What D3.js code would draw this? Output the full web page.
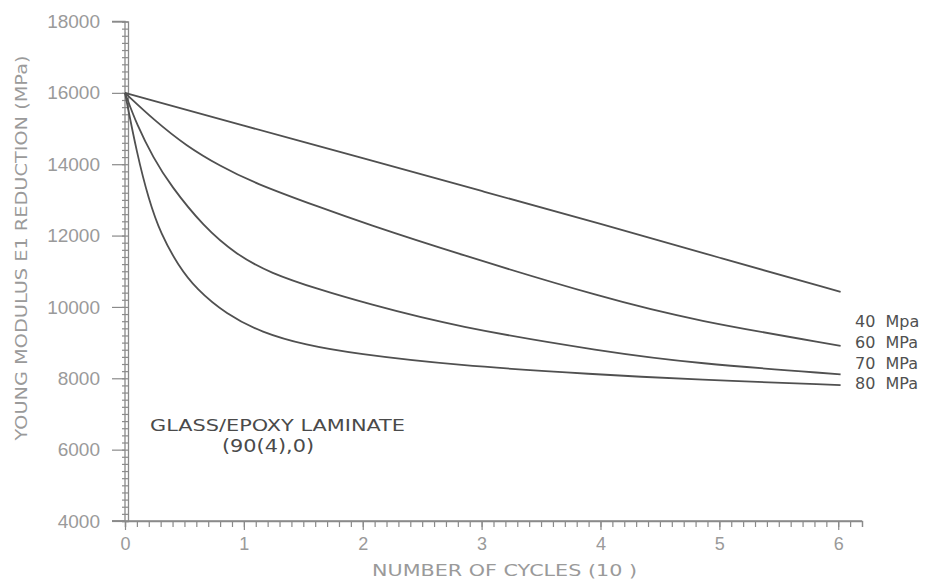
<!DOCTYPE html>
<html>
<head>
<meta charset="utf-8">
<script src="https://cdn.jsdelivr.net/npm/d3@7"></script>
<style>
    body { margin: 0; background: #fff; }
    svg { display: block; font-family: "DejaVu Sans", sans-serif; }
</style>
</head>
<body>
<svg id="chart" width="945" height="586"></svg>
<script>
// cycles (x) and modulus (MPa)
var x40 = [0, 1, 2, 3, 4, 5, 6.02];
var y40 = [16000, 15080, 14170, 13250, 12330, 11380, 10420];

var x60 = [0, 0.24, 0.52, 0.8, 1.08, 1.64, 2.02, 2.77, 4.04, 4.79, 6.02];
var y60 = [16000, 15250, 14500, 13950, 13480, 12790, 12340, 11520, 10240, 9620, 8910];

var x70 = [0, 0.1, 0.24, 0.38, 0.66, 0.94, 1.22, 1.64, 2.02, 2.77, 4.04, 4.79, 6.02];
var y70 = [16000, 15100, 14170, 13420, 12250, 11460, 10950, 10480, 10110, 9450, 8740, 8420, 8110];

var x80 = [0, 0.1, 0.2, 0.3, 0.45, 0.6, 0.85, 1.15, 1.52, 1.93, 2.78, 3.95, 4.8, 6.02];
var y80 = [16000, 14300, 13000, 12050, 11150, 10500, 9800, 9280, 8930, 8690, 8360, 8110, 7960, 7810];

var seriesNames = ['40  Mpa', '60  MPa', '70  MPa', '80  MPa'];
var xTicks = [0, 1, 2, 3, 4, 5, 6];
var yTicks = [4000, 6000, 8000, 10000, 12000, 14000, 16000, 18000];

var svg = d3.select('#chart');

var x = d3.scaleLinear().domain([0, 6.2]).range([125, 862]);
var y = d3.scaleLinear().domain([4000, 18000]).range([521, 21.5]);

var axisColor = '#8a8a8a';
var lineColor = '#505050';

// y axis: long ticks every 2000, short ones every 200
var yMinor = d3.range(4000, 18001, 200);
svg.append('g')
    .attr('transform', 'translate(' + (x(0) + 3) + ',0)')
    .call(d3.axisLeft(y).tickValues(yMinor).tickSize(6).tickFormat(''))
    ;
svg.append('g')
    .attr('class', 'y-major')
    .attr('transform', 'translate(' + x(0) + ',0)')
    .call(d3.axisLeft(y).tickValues(yTicks).tickSize(13).tickPadding(12).tickFormat(d3.format('d')))
    ;

// x axis
var xMinor = d3.range(0, 6.21, 0.1);
svg.append('g')
    .attr('transform', 'translate(0,' + y(4000) + ')')
    .call(d3.axisBottom(x).tickValues(xMinor).tickSize(6).tickFormat(''))
    ;
svg.append('g')
    .attr('class', 'x-major')
    .attr('transform', 'translate(0,' + y(4000) + ')')
    .call(d3.axisBottom(x).tickValues(xTicks).tickSize(9).tickPadding(7).tickFormat(d3.format('d')))
    ;

svg.selectAll('.domain').attr('stroke', axisColor).attr('stroke-width', 1.3);
svg.selectAll('.tick line').attr('stroke', axisColor).attr('stroke-width', 1.2);
svg.selectAll('.tick text')
    .attr('fill', '#9a9a9a')
    .style('font-size', '18px')
    ;
svg.selectAll('.y-major .tick text').style('font-size', '19px');
svg.select('.y-major .domain').attr('d', 'M-13,' + y(18000) + 'H0V' + y(4000) + 'H-13');
svg.select('.x-major .domain').attr('d', 'M' + (x(0) - 13) + ',0H' + x(6.2));

// axis titles
svg.append('text')
    .attr('transform', 'translate(27,' + 248 + ') rotate(-90)')
    .attr('text-anchor', 'middle')
    .attr('fill', '#9a9a9a')
    .attr('textLength', 385)
    .attr('lengthAdjust', 'spacingAndGlyphs')
    .style('font-size', '15px')
    .text('YOUNG MODULUS E1 REDUCTION (MPa)')
    ;
svg.append('text')
    .attr('x', 372)
    .attr('y', 576)
    .attr('fill', '#9a9a9a')
    .attr('textLength', 265)
    .attr('lengthAdjust', 'spacingAndGlyphs')
    .style('font-size', '15px')
    .text('NUMBER OF CYCLES (10  )')
    ;

// curves
var line = d3.line()
    .x(function(d) { return x(d[0]); })
    .y(function(d) { return y(d[1]); })
    .curve(d3.curveBasis)
    ;

var series = [
    d3.zip(x40, y40),
    d3.zip(x60, y60),
    d3.zip(x70, y70),
    d3.zip(x80, y80),
];

svg.append('g')
    .selectAll('path')
    .data(series)
    .join('path')
    .attr('d', line)
    .attr('fill', 'none')
    .attr('stroke', lineColor)
    .attr('stroke-width', 1.8)
    ;

// right side labels
var labelY = [321, 342, 363, 383];
svg.append('g')
    .selectAll('text')
    .data(seriesNames)
    .join('text')
    .attr('x', 855)
    .attr('y', function(d, i) { return labelY[i]; })
    .attr('dy', '0.35em')
    .attr('fill', '#505050')
    .style('font-size', '16px')
    .style('white-space', 'pre')
    .text(function(d) { return d; })
    ;

// note
svg.append('text')
    .attr('x', 150)
    .attr('y', 431)
    .attr('fill', '#4a4a4a')
    .attr('textLength', 255)
    .attr('lengthAdjust', 'spacingAndGlyphs')
    .style('font-size', '16px')
    .text('GLASS/EPOXY LAMINATE')
    ;
svg.append('text')
    .attr('x', 222)
    .attr('y', 452)
    .attr('fill', '#4a4a4a')
    .attr('textLength', 92)
    .attr('lengthAdjust', 'spacingAndGlyphs')
    .style('font-size', '17px')
    .text('(90(4),0)')
    ;
</script>
</body>
</html>
